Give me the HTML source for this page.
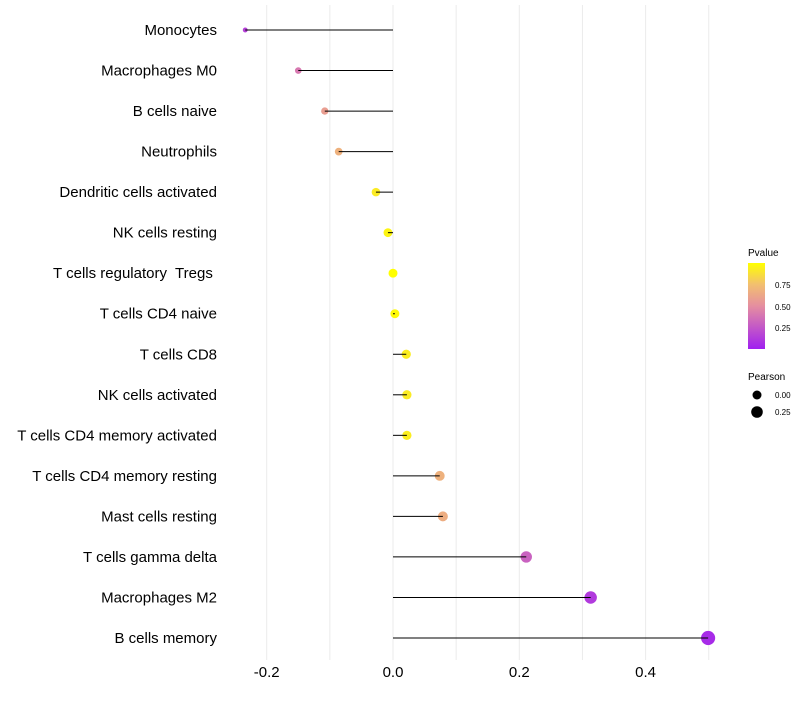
<!DOCTYPE html>
<html><head><meta charset="utf-8"><style>
body{margin:0;background:#fff;font-family:"Liberation Sans",sans-serif}
text{white-space:pre}
</style></head><body>
<svg id="chart" width="800" height="700" xmlns="http://www.w3.org/2000/svg" font-family="Liberation Sans, sans-serif">
<defs><linearGradient id="pg" x1="0" y1="1" x2="0" y2="0">
<stop offset="0" stop-color="#a020f0"/><stop offset="0.5" stop-color="#e58ea0"/><stop offset="0.75" stop-color="#f2bf70"/><stop offset="1" stop-color="#ffff00"/></linearGradient></defs>
<g id="grid"></g><g id="marks"></g><g id="labels"></g>
<g>
<text x="748" y="256" font-size="10">Pvalue</text>
<rect x="748" y="263" width="17" height="86" fill="url(#pg)"/>
<text x="775" y="288" font-size="8">0.75</text>
<text x="775" y="310" font-size="8">0.50</text>
<text x="775" y="331" font-size="8">0.25</text>
</g>
<g>
<text x="748" y="380" font-size="10">Pearson</text>
<circle cx="757" cy="395" r="4.5" fill="#000"/><text x="775" y="398" font-size="8">0.00</text>
<circle cx="757" cy="412" r="5.8" fill="#000"/><text x="775" y="415" font-size="8">0.25</text>
</g>
</svg>
<script>
const cells=["Monocytes","Macrophages M0","B cells naive","Neutrophils","Dendritic cells activated","NK cells resting","T cells regulatory  Tregs ","T cells CD4 naive","T cells CD8","NK cells activated","T cells CD4 memory activated","T cells CD4 memory resting","Mast cells resting","T cells gamma delta","Macrophages M2","B cells memory"];
const pearson=[-0.234,-0.150,-0.108,-0.086,-0.027,-0.008,0.0,0.003,0.021,0.022,0.022,0.074,0.079,0.211,0.313,0.499];
const pvalue=[0.15,0.4,0.58,0.68,0.92,0.96,1.0,0.98,0.93,0.92,0.93,0.68,0.66,0.3,0.12,0.05];
const xTicks=[-0.2,0,0.2,0.4];
const xTickLabels=["-0.2","0.0","0.2","0.4"];
const gridVals=[-0.2,-0.1,0,0.1,0.2,0.3,0.4,0.5];
const NS="http://www.w3.org/2000/svg";
const x=v=>393+v*631.5;
const y=i=>30+i*(608/15);
function mk(t,a,p){const e=document.createElementNS(NS,t);for(const k in a)e.setAttribute(k,a[k]);p.appendChild(e);return e;}
function lerp(a,b,t){return a.map((c,i)=>Math.round(c+(b[i]-c)*t));}
function pcol(p){const st=[[0,[160,32,240]],[0.5,[229,142,160]],[0.75,[242,191,112]],[1,[255,255,0]]];
for(let i=1;i<st.length;i++){if(p<=st[i][0]){const t=(p-st[i-1][0])/(st[i][0]-st[i-1][0]);return "rgb("+lerp(st[i-1][1],st[i][1],t).join(",")+")";}}return "rgb(255,255,0)";}
const g=document.getElementById("grid"),m=document.getElementById("marks"),L=document.getElementById("labels");
gridVals.forEach(v=>{const l=mk("line",{x1:x(v),x2:x(v),y1:5,y2:660,stroke:"#ebebeb","stroke-width":1},g);

});
xTicks.forEach((v,i)=>{const t=mk("text",{x:x(v),y:677,"font-size":15,"text-anchor":"middle",fill:"#000"},L);t.textContent=xTickLabels[i];

});
cells.forEach((c,i)=>{
const t=mk("text",{x:217,y:y(i)+5,"font-size":15,"text-anchor":"end",fill:"#000"},L);t.textContent=c;


const r=Math.sqrt(Math.max(1,20+60*pearson[i]));
const d=mk("circle",{cx:x(pearson[i]),cy:y(i),r:r,fill:pcol(pvalue[i])},m);


const s=mk("line",{x1:x(0),x2:x(pearson[i]),y1:y(i),y2:y(i),stroke:"#000","stroke-width":1},m);


});
</script>
</body></html>
